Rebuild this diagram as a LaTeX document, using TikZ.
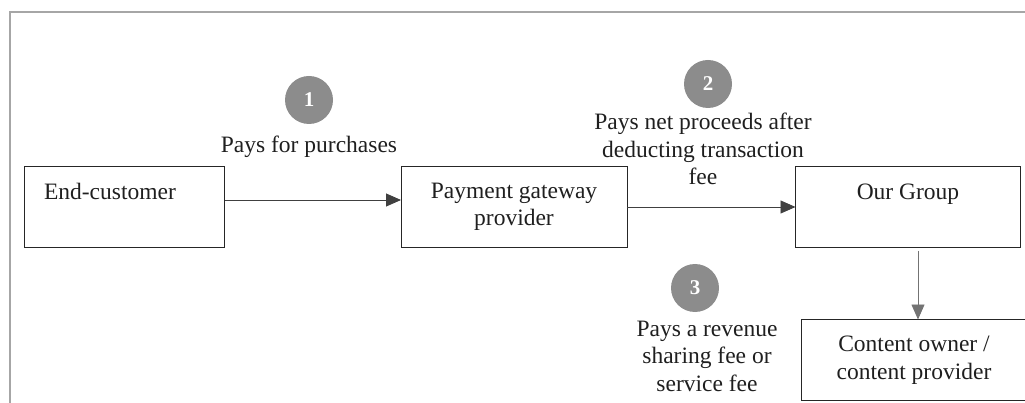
\documentclass[tikz,border=0pt]{standalone}
\usepackage{fontspec}
\setmainfont{Liberation Serif}
\usetikzlibrary{arrows.meta}
\begin{document}
\begin{tikzpicture}[x=1pt,y=-1pt,
  every node/.style={inner sep=0pt,outer sep=0pt},
  party/.style={draw=black!85,line width=1pt,rectangle},
  txt/.style={font=\fontsize{23.5}{27.5}\selectfont,text=black!88,align=center},
  badge/.style={circle,fill=black!45,minimum size=48pt,text=white,font=\fontsize{21}{22}\selectfont\bfseries},
  flow/.style={draw=black!75,line width=0.9pt,-{Triangle[length=15pt,width=13pt]}}]
% canvas and the grey frame along the top and left
\useasboundingbox (0,0) rectangle (1025,403);
\draw[black!35,line width=1.5pt] (10,403) -- (10,12) -- (1025,12);

% parties
\node[party,minimum width=200pt,minimum height=81pt] (cust) at (124.5,207) {};
\node[txt,anchor=base west] (custlbl) at (44,200) {End-customer};
\node[party,minimum width=226pt,minimum height=81pt] (pgw) at (514,207) {};
\node[txt] (pgwlbl) at (514,207) {Payment gateway\\provider};
\node[party,minimum width=225pt,minimum height=81pt] (grp) at (908,207) {};
\node[txt,anchor=base] (grplbl) at (908,200) {Our Group};
\node[party,minimum width=225pt,minimum height=81pt] (cop) at (914,360) {};
\node[txt] (coplbl) at (914,360) {Content owner /\\content provider};

% money flows
\draw[flow] (cust.east |- 0,200) -- (pgw.west |- 0,200);
\draw[flow] (pgw.east |- 0,207) -- (grp.west |- 0,207);
\draw[flow,draw=black!55] (918,251) coordinate (gdn) -- (918,319.5) coordinate (cup);

% step badges and descriptions
\node[badge] (b1) at (309,100) {1};
\node[txt,anchor=base] (t1) at (309,153) {Pays for purchases};
\node[badge] (b2) at (708,84) {2};
\node[txt] (t2) at (703,149) {Pays net proceeds after\\deducting transaction\\fee};
\node[badge] (b3) at (695,288) {3};
\node[txt] (t3) at (707,356) {Pays a revenue\\sharing fee or\\service fee};
\end{tikzpicture}
\end{document}
